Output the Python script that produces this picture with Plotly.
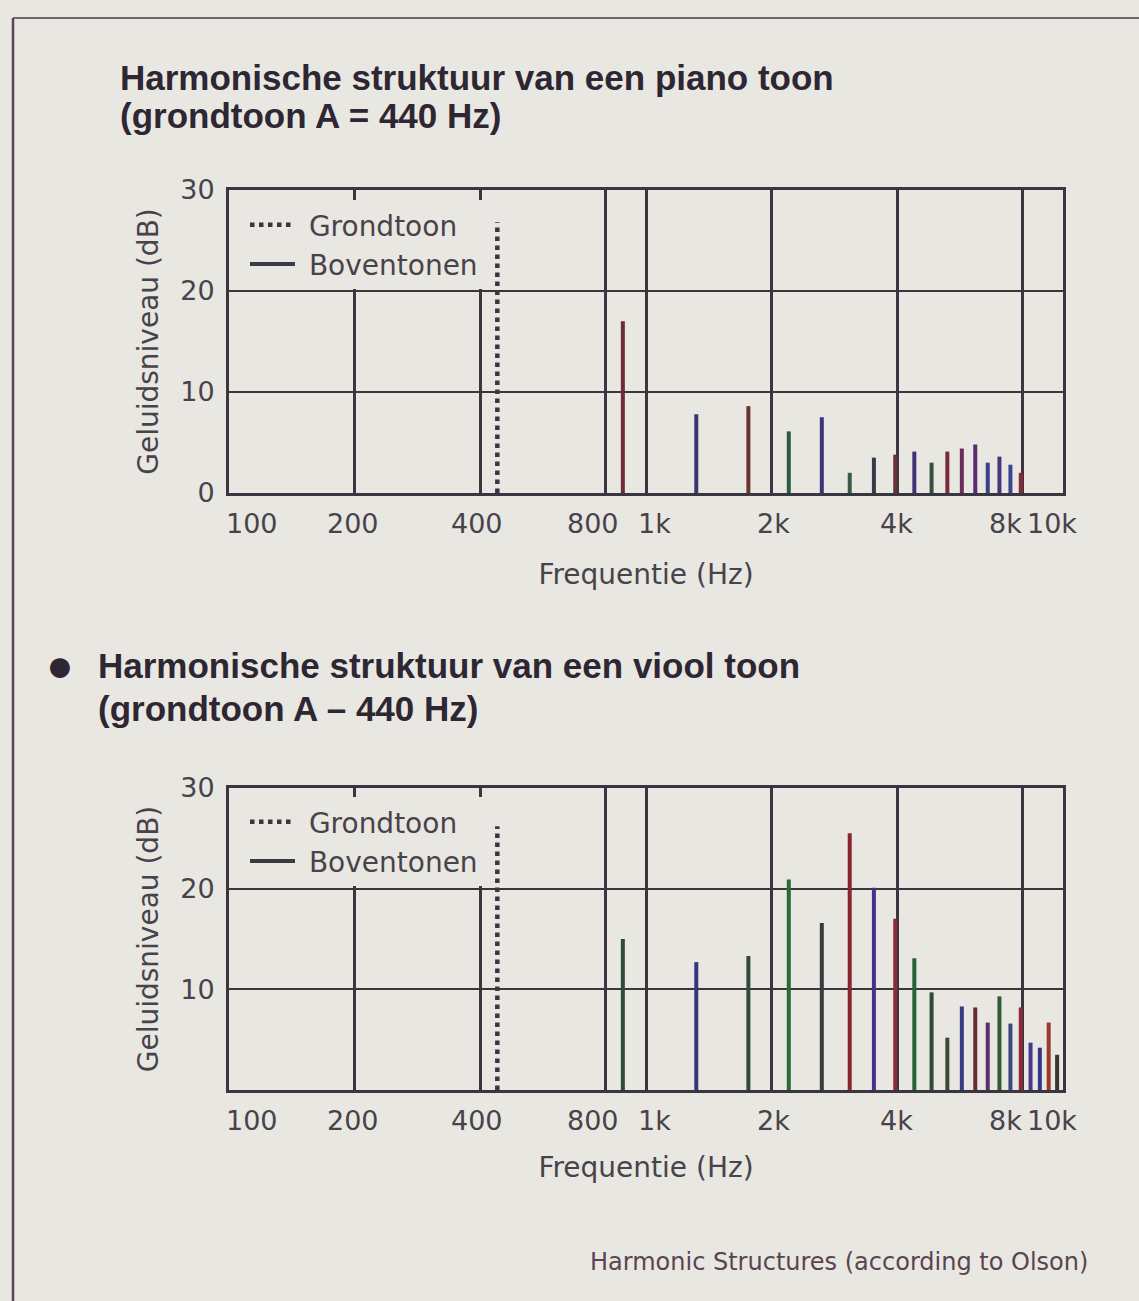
import math
import plotly.graph_objects as go

# ---------------- data ----------------
fundamental_hz = 440
piano_fundamental_db = 26.8
violin_fundamental_db = 26.2

piano_harm_hz = [880, 1320, 1760, 2200, 2640, 3080, 3520, 3960, 4400,
                 4840, 5280, 5720, 6160, 6600, 7040, 7480, 7920]
piano_harm_db = [17.0, 7.8, 8.6, 6.1, 7.5, 2.0, 3.5, 3.8, 4.1,
                 3.0, 4.1, 4.4, 4.8, 3.0, 3.6, 2.8, 2.0]

violin_harm_hz = [880, 1320, 1760, 2200, 2640, 3080, 3520, 3960, 4400,
                  4840, 5280, 5720, 6160, 6600, 7040, 7480, 7920,
                  8360, 8800, 9240, 9680]
violin_harm_db = [15.0, 12.7, 13.3, 20.9, 16.6, 25.5, 20.1, 17.0, 13.1,
                  9.7, 5.2, 8.3, 8.2, 6.7, 9.3, 6.6, 8.2,
                  4.7, 4.2, 6.7, 3.5]

grid_hz = [200, 400, 800, 1000, 2000, 4000, 8000]
xtick_hz = [100, 200, 400, 800, 1000, 2000, 4000, 8000, 10000]
xtick_text = ["100", "200", "400", "800", "1k", "2k", "4k", "8k", "10k"]
piano_ytick = [0, 10, 20, 30]
violin_ytick = [10, 20, 30]

title_piano = ["Harmonische struktuur van een piano toon", "(grondtoon A = 440 Hz)"]
title_violin = ["Harmonische struktuur van een viool toon", "(grondtoon A \u2013 440 Hz)"]
x_title = "Frequentie (Hz)"
y_title = "Geluidsniveau (dB)"
legend_f0 = "Grondtoon"
legend_harm = "Boventonen"
credit = "Harmonic Structures (according to Olson)"

# ---------------- style ----------------
W, H = 1139, 1301
BG = "#e8e7e2"
INK = "#3a3640"
TXT = "#48434a"
SANS = "DejaVu Sans"
BOLD = "Liberation Sans"
NB = "\u00a0"

piano_colors = ["#6e2b3a", "#3d3570", "#6a3530", "#2f5a3c", "#3e3278", "#3a5a48",
                "#3a3a48", "#6a3035", "#45337a", "#33503d", "#7a2a3a", "#6a2d5a",
                "#5a2d70", "#38408a", "#4a3578", "#3a4690", "#8a2a35"]
violin_colors = ["#2f4a3a", "#35357a", "#2f4a3a", "#2a6a35", "#3a3a40", "#8a2530",
                 "#45308a", "#8a2a3a", "#2a6038", "#2f4a38", "#3a4a35", "#3a3a80",
                 "#6a2a35", "#5a3070", "#2f5a35", "#3a4a80", "#8a2a3a", "#4a3590",
                 "#35358a", "#9a3a2a", "#3a3530"]

def px_x(p):
    return p / W

def px_y(p):
    return 1 - p / H

x_dom = [px_x(229), px_x(1063)]
top_dom = [px_y(493), px_y(190)]
bot_dom = [px_y(1090), px_y(788)]

fig = go.Figure()

def add_chart(xa, ya, f0_db, hz, db, colors, legend_name, legend_idx):
    fig.add_trace(go.Scatter(
        x=[fundamental_hz, fundamental_hz], y=[0, f0_db], mode="lines",
        line=dict(color=INK, width=4.5, dash="dot"),
        name=NB + legend_f0, xaxis=xa, yaxis=ya, legend=legend_name,
        hoverinfo="skip"))
    for i, (f, v) in enumerate(zip(hz, db)):
        fig.add_trace(go.Scatter(
            x=[f, f], y=[0, v], mode="lines",
            line=dict(color=colors[i], width=4),
            name=NB + legend_harm + NB, legendgroup="bov" + legend_name,
            showlegend=(i == legend_idx), xaxis=xa, yaxis=ya,
            legend=legend_name, hoverinfo="skip"))

add_chart("x", "y", piano_fundamental_db, piano_harm_hz, piano_harm_db,
          piano_colors, "legend", 6)
add_chart("x2", "y2", violin_fundamental_db, violin_harm_hz, violin_harm_db,
          violin_colors, "legend2", 4)

xr = [math.log10(100), math.log10(10000)]

def xaxis_cfg(domain, anchor, standoff):
    return dict(type="log", range=xr, domain=domain, anchor=anchor,
                tickvals=grid_hz, showticklabels=False, ticks="",
                showgrid=True, gridcolor=INK, gridwidth=2.5,
                showline=True, linecolor=INK, linewidth=3, mirror=True,
                zeroline=False, automargin=False,
                title=dict(text=x_title, font=dict(family=SANS, size=28, color=TXT),
                           standoff=standoff))

def yaxis_cfg(domain, anchor, ticks):
    return dict(range=[0, 30], domain=domain, anchor=anchor,
                tickvals=ticks, ticktext=[str(t) for t in ticks],
                ticks="", ticklabelstandoff=6,
                tickfont=dict(family=SANS, size=27, color=TXT),
                showgrid=True, gridcolor=INK, gridwidth=1.5,
                showline=True, linecolor=INK, linewidth=3, mirror=True,
                zeroline=False, automargin=False,
                title=dict(text=y_title, font=dict(family=SANS, size=28, color=TXT),
                           standoff=14))

legend_common = dict(bgcolor=BG, borderwidth=0, font=dict(family=SANS, size=28, color=TXT),
                     xanchor="left", yanchor="top", itemwidth=45, tracegroupgap=0)

fig.update_layout(
    width=W, height=H,
    margin=dict(l=0, r=0, t=0, b=0, pad=0, autoexpand=False),
    paper_bgcolor=BG, plot_bgcolor=BG, showlegend=True,
    xaxis=xaxis_cfg(x_dom, "y", 70),
    yaxis=yaxis_cfg(top_dom, "x", piano_ytick),
    xaxis2=xaxis_cfg(x_dom, "y2", 66),
    yaxis2=yaxis_cfg(bot_dom, "x2", violin_ytick),
    legend=dict(x=px_x(245), y=px_y(200), **legend_common),
    legend2=dict(x=px_x(245), y=px_y(797), **legend_common),
)

ann = []
# x tick labels as annotations at the tick frequencies
label_shift = [23, -2, -3, -13, 8, 2, -1, -17, -11]
for xa, ya in (("x", "y"), ("x2", "y2")):
    for f, t, s in zip(xtick_hz, xtick_text, label_shift):
        ann.append(dict(x=math.log10(f), y=0, xref=xa, yref=ya + " domain",
                        text=t, showarrow=False, xshift=s, yshift=-30,
                        xanchor="center", yanchor="middle",
                        font=dict(family=SANS, size=27, color=TXT)))

def title_ann(text, x, y, size=35):
    return dict(x=px_x(x), y=px_y(y), xref="paper", yref="paper",
                text="<b>" + text + "</b>", showarrow=False,
                xanchor="left", yanchor="middle",
                font=dict(family=BOLD, size=size, color="#2e2733"))

ann.append(title_ann(title_piano[0], 118, 77))
ann.append(title_ann(title_piano[1], 118, 115))
ann.append(title_ann("\u25cf", 44, 665, size=46))
ann.append(title_ann(title_violin[0], 96, 665))
ann.append(title_ann(title_violin[1], 96, 708))
ann.append(dict(x=px_x(1090), y=px_y(1262), xref="paper", yref="paper",
                text=credit, showarrow=False, xanchor="right", yanchor="middle",
                font=dict(family="DejaVu Sans", size=24, color="#5a4450")))
fig.update_layout(annotations=ann)

# page frame lines
fig.update_layout(shapes=[
    dict(type="line", xref="paper", yref="paper", x0=px_x(13), x1=1,
         y0=px_y(18), y1=px_y(18), line=dict(color="#6b6868", width=2)),
    dict(type="line", xref="paper", yref="paper", x0=px_x(13), x1=px_x(13),
         y0=px_y(18), y1=0, line=dict(color="#5a4458", width=2.5)),
])

fig.write_html(
    "out.html",
    config={"responsive": False, "displayModeBar": False},
    post_script="document.body.style.margin='0';document.body.style.overflow='hidden';",
)
